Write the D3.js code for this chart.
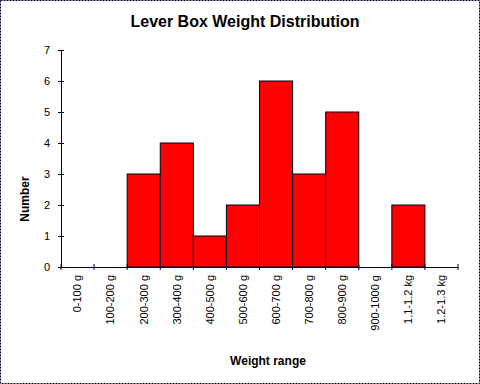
<!DOCTYPE html>
<html><head><meta charset="utf-8">
<script src="https://cdn.jsdelivr.net/npm/d3@7"></script>
<style>body{margin:0;background:#fff}svg{display:block}text{font-family:"Liberation Sans",Arial,sans-serif}</style>
</head><body>
<svg id="c" width="480" height="384"></svg>
<script>
const categories = ["0-100 g","100-200 g","200-300 g","300-400 g","400-500 g","500-600 g","600-700 g","700-800 g","800-900 g","900-1000 g","1.1-1.2 kg","1.2-1.3 kg"];
const counts = [0,0,3,4,1,2,6,3,5,0,2,0];
const yTicks = [0,1,2,3,4,5,6,7];
const title = "Lever Box Weight Distribution";
const xTitle = "Weight range";
const yTitle = "Number";

const svg = d3.select("#c");
svg.append("rect").attr("x",0.5).attr("y",0.5).attr("width",479).attr("height",383)
  .attr("fill","#fff").attr("stroke","#000033").attr("stroke-dasharray","2,1");

const m = {l:61, r:458, t:50, b:267};
const x = d3.scaleBand().domain(categories).range([m.l, m.r]).padding(0);
const y = d3.scaleLinear().domain([0,7]).range([m.b, m.t]);

svg.append("g").selectAll("rect").data(counts).join("rect")
  .attr("x",(d,i)=>x(categories[i])).attr("y",d=>y(d))
  .attr("width",x.bandwidth()).attr("height",d=>y(0)-y(d))
  .attr("fill","#ff0000").attr("stroke","#000022").attr("stroke-width",1)
  .style("display",d=>d>0?null:"none");

// y axis
const ya = svg.append("g").attr("transform",`translate(${m.l},0)`)
  .call(d3.axisLeft(y).tickValues(yTicks).tickFormat(d3.format("d")).tickSizeInner(3).tickSizeOuter(0).tickPadding(8));
ya.selectAll(".tick line").attr("x1",3).attr("x2",-3);
ya.select(".domain").attr("stroke","#000033");
ya.selectAll("line").attr("stroke","#000033");
ya.selectAll("text").attr("font-size",11).attr("fill","#000").style("font-family","Liberation Sans, Arial");

// x axis
const xa = svg.append("g").attr("transform",`translate(0,${m.b})`)
  .call(d3.axisBottom(x).tickSize(0).tickSizeOuter(0));
xa.select(".domain").attr("stroke","#000033");
const edges = categories.map(c=>x(c)).concat([m.r]);
xa.selectAll(".edgetick").data(edges).join("line").attr("class","edgetick")
  .attr("x1",d=>d).attr("x2",d=>d).attr("y1",-3).attr("y2",3).attr("stroke","#000033");
xa.selectAll(".tick text")
  .attr("transform","rotate(-90)")
  .attr("x",-8).attr("y",0).attr("dy","0.35em")
  .attr("text-anchor","end").attr("font-size",11).attr("fill","#000")
  .style("font-family","Liberation Sans, Arial");

svg.append("text").attr("x",245).attr("y",27).attr("text-anchor","middle")
  .attr("font-size",16).attr("font-weight","bold").attr("fill","#000").text(title);
svg.append("text").attr("x",268).attr("y",365).attr("text-anchor","middle")
  .attr("font-size",12).attr("font-weight","bold").attr("fill","#000").text(xTitle);
svg.append("text").attr("transform","translate(29,199) rotate(-90)").attr("text-anchor","middle")
  .attr("font-size",12).attr("font-weight","bold").attr("fill","#000").text(yTitle);
</script>
</body></html>
